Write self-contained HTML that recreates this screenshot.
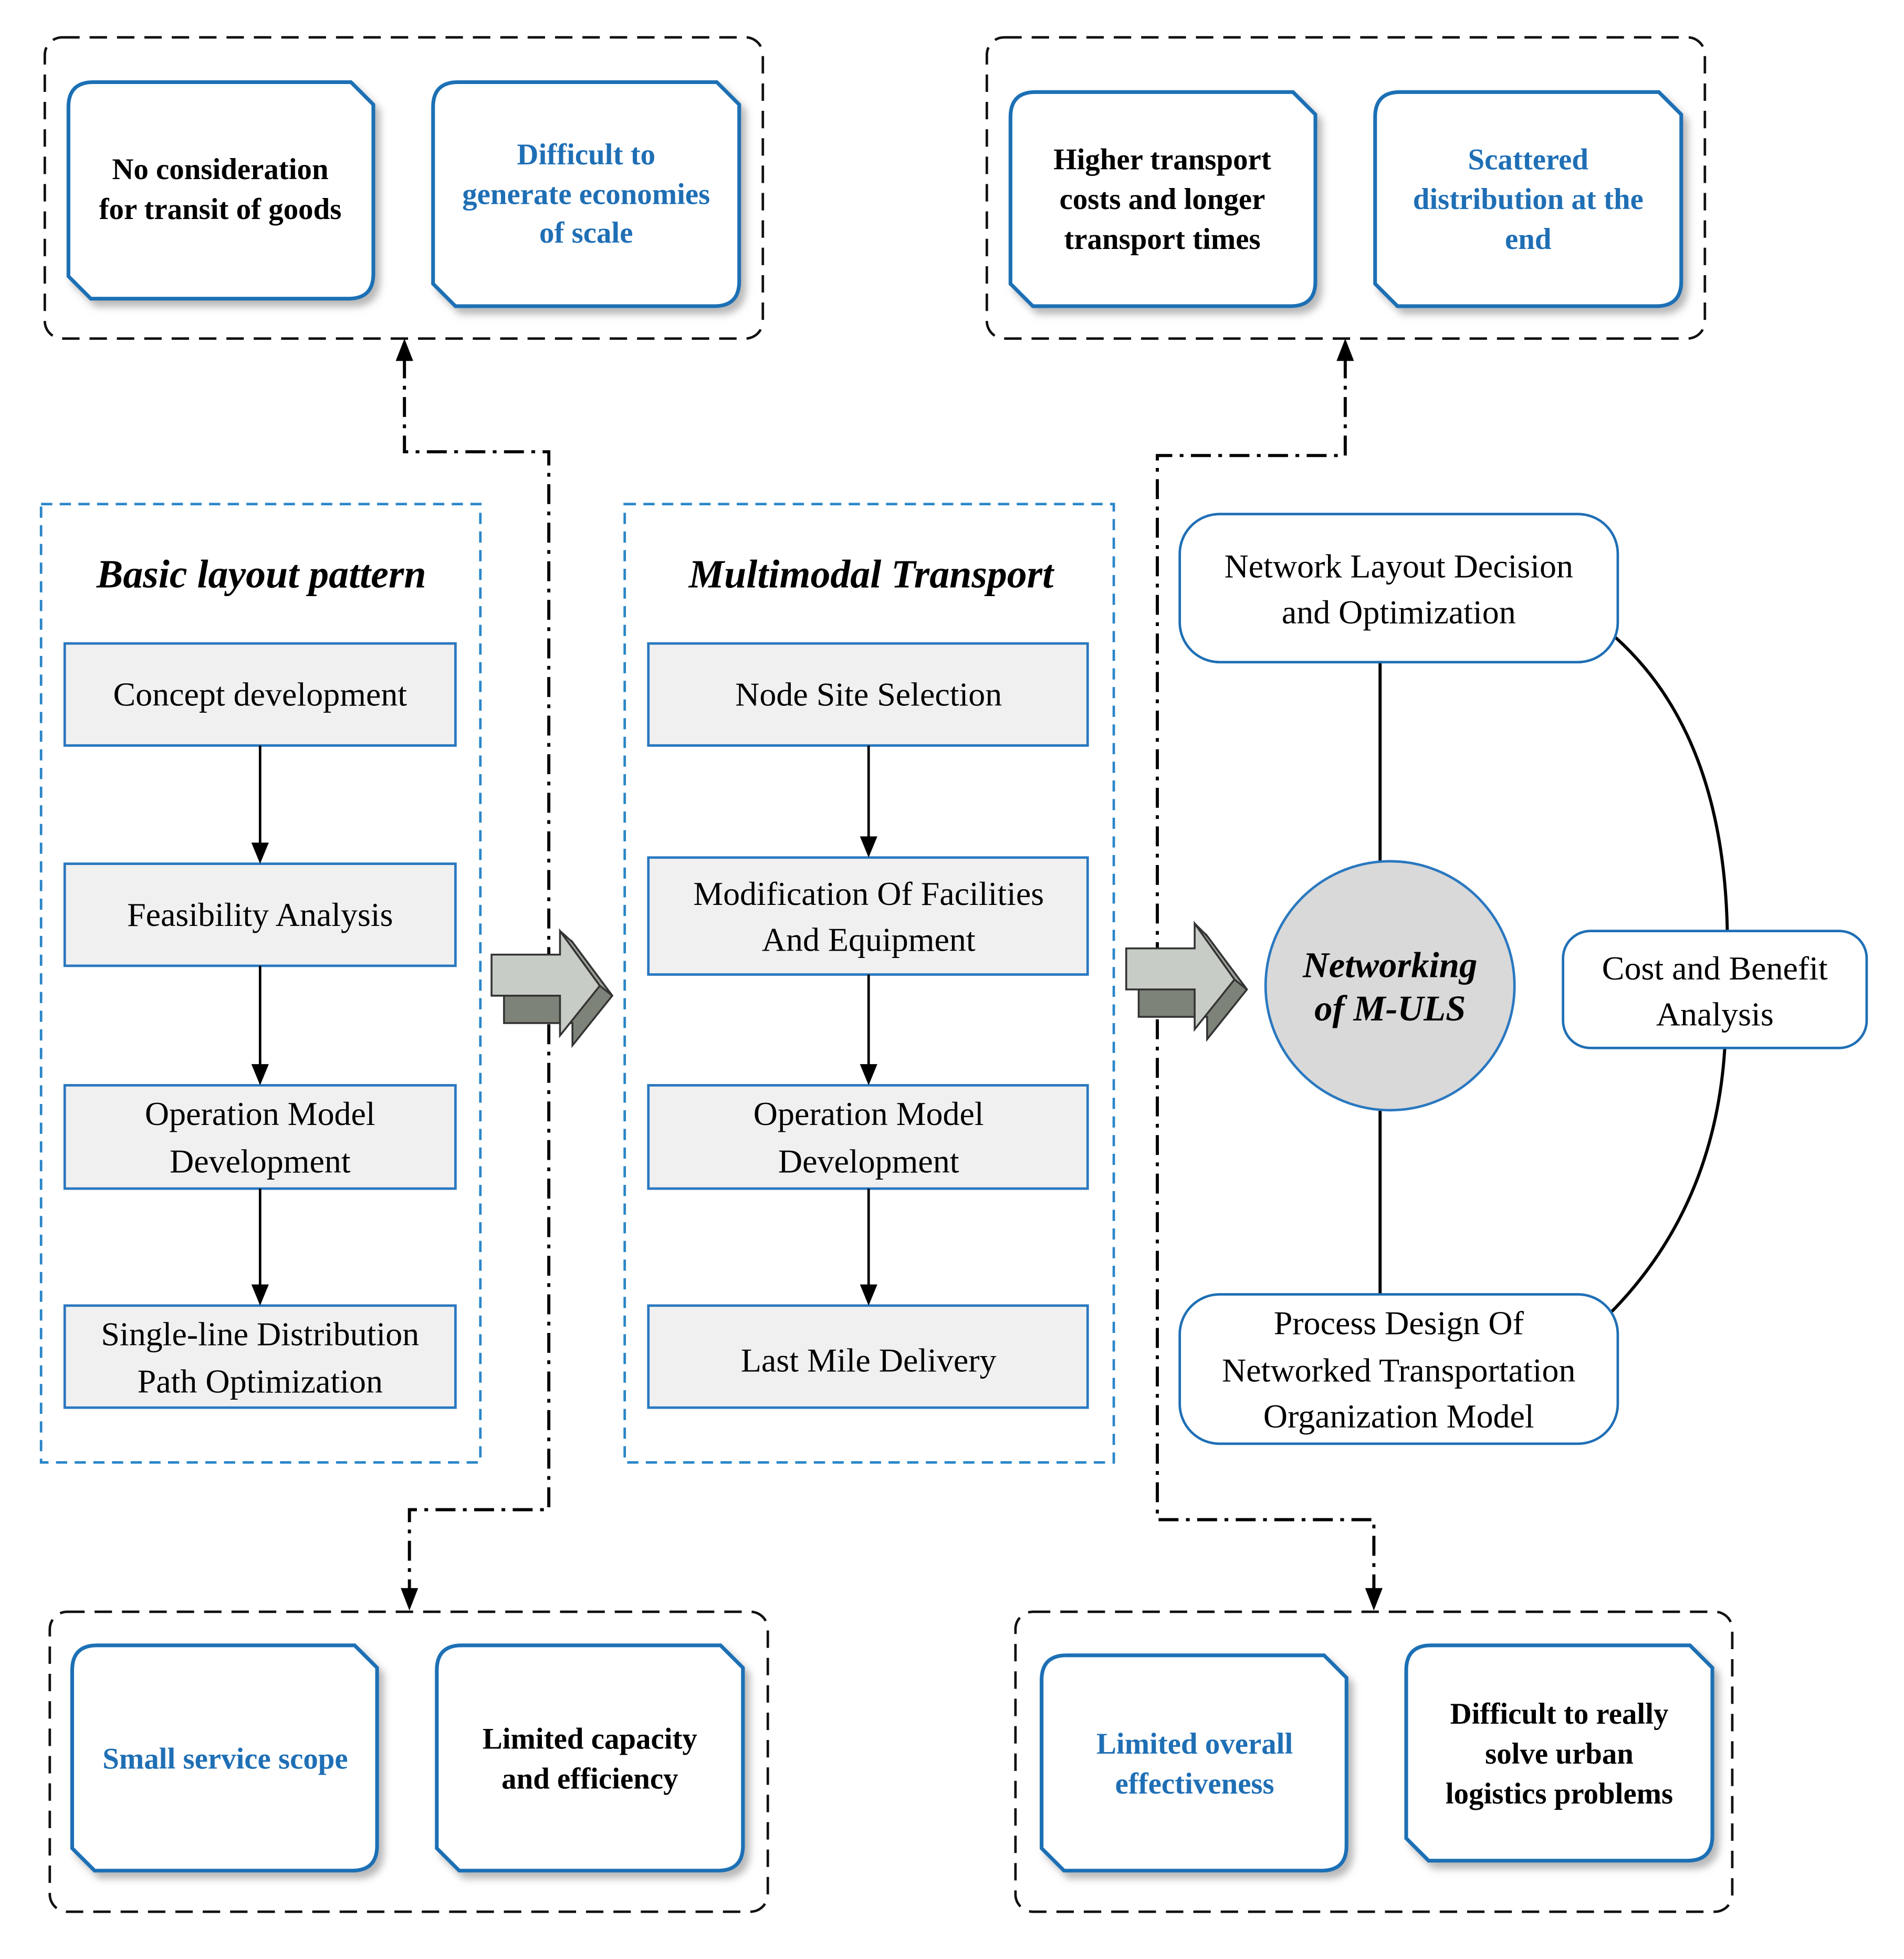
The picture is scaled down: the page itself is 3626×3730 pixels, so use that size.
<!DOCTYPE html>
<html><head><meta charset="utf-8"><style>html,body{margin:0;padding:0;background:#fff}svg{display:block}</style></head><body>
<svg width="3626" height="3730" viewBox="0 0 1530 1574" preserveAspectRatio="none" xmlns="http://www.w3.org/2000/svg" font-family="Liberation Serif, serif">
<defs>
<filter id="sh" x="-10%" y="-10%" width="130%" height="130%"><feDropShadow dx="4" dy="5" stdDeviation="3" flood-color="#888" flood-opacity="0.6"/></filter>
</defs>
<g fill="none" stroke="#111" stroke-width="2" stroke-dasharray="14,8">
<rect x="36" y="30" width="577" height="242" rx="14"/>
<rect x="793" y="30" width="577" height="242" rx="14"/>
<rect x="40" y="1295" width="577" height="241" rx="14"/>
<rect x="816" y="1295" width="576" height="241" rx="14"/>
</g>
<g fill="#fff" stroke="#1f6fb5" stroke-width="3" filter="url(#sh)">
<path d="M75,66 L282,66 L300,84 L300,220 Q300,240 280,240 L73,240 L55,222 L55,86 Q55,66 75,66 Z"/>
<path d="M368,66 L576,66 L594,84 L594,226 Q594,246 574,246 L366,246 L348,228 L348,86 Q348,66 368,66 Z"/>
<path d="M832,74 L1039,74 L1057,92 L1057,226 Q1057,246 1037,246 L830,246 L812,228 L812,94 Q812,74 832,74 Z"/>
<path d="M1125,74 L1333,74 L1351,92 L1351,226 Q1351,246 1331,246 L1123,246 L1105,228 L1105,94 Q1105,74 1125,74 Z"/>
<path d="M78,1322 L285,1322 L303,1340 L303,1483 Q303,1503 283,1503 L76,1503 L58,1485 L58,1342 Q58,1322 78,1322 Z"/>
<path d="M371,1322 L579,1322 L597,1340 L597,1483 Q597,1503 577,1503 L369,1503 L351,1485 L351,1342 Q351,1322 371,1322 Z"/>
<path d="M857,1330 L1064,1330 L1082,1348 L1082,1483 Q1082,1503 1062,1503 L855,1503 L837,1485 L837,1350 Q837,1330 857,1330 Z"/>
<path d="M1150,1322 L1358,1322 L1376,1340 L1376,1475 Q1376,1495 1356,1495 L1148,1495 L1130,1477 L1130,1342 Q1130,1322 1150,1322 Z"/>
</g>
<g font-weight="bold" font-size="24" text-anchor="middle">
<text x="177" y="144">No consideration</text><text x="177" y="176">for transit of goods</text>
<g fill="#1f6fb5"><text x="471" y="132">Difficult to</text><text x="471" y="164">generate economies</text><text x="471" y="195">of scale</text></g>
<text x="934" y="136">Higher transport</text><text x="934" y="168">costs and longer</text><text x="934" y="200">transport times</text>
<g fill="#1f6fb5"><text x="1228" y="136">Scattered</text><text x="1228" y="168">distribution at the</text><text x="1228" y="200">end</text></g>
<text x="181" y="1421" fill="#1f6fb5">Small service scope</text>
<text x="474" y="1405">Limited capacity</text><text x="474" y="1437">and efficiency</text>
<g fill="#1f6fb5"><text x="960" y="1409">Limited overall</text><text x="960" y="1441">effectiveness</text></g>
<text x="1253" y="1385">Difficult to really</text><text x="1253" y="1417">solve urban</text><text x="1253" y="1449">logistics problems</text>
</g>
<g fill="none" stroke="#2a86c8" stroke-width="2" stroke-dasharray="9,6">
<rect x="33" y="405" width="353" height="770"/>
<rect x="502" y="405" width="393" height="770"/>
</g>
<g font-weight="bold" font-style="italic" font-size="32" text-anchor="middle">
<text x="210" y="472">Basic layout pattern</text>
<text x="700" y="472">Multimodal Transport</text>
</g>
<g fill="#f0f0f0" stroke="#2a78c0" stroke-width="2">
<rect x="52" y="517" width="314" height="82"/><rect x="52" y="694" width="314" height="82"/>
<rect x="52" y="872" width="314" height="83"/><rect x="52" y="1049" width="314" height="82"/>
<rect x="521" y="517" width="353" height="82"/><rect x="521" y="689" width="353" height="94"/>
<rect x="521" y="872" width="353" height="83"/><rect x="521" y="1049" width="353" height="82"/>
</g>
<g font-size="27" text-anchor="middle">
<text x="209" y="567">Concept development</text>
<text x="209" y="744">Feasibility Analysis</text>
<text x="209" y="904">Operation Model</text><text x="209" y="942">Development</text>
<text x="209" y="1081">Single-line Distribution</text><text x="209" y="1119">Path Optimization</text>
<text x="698" y="567">Node Site Selection</text>
<text x="698" y="727">Modification Of Facilities</text><text x="698" y="764">And Equipment</text>
<text x="698" y="904">Operation Model</text><text x="698" y="942">Development</text>
<text x="698" y="1102">Last Mile Delivery</text>
</g>
<g stroke="#000" stroke-width="2" fill="none">
<line x1="209" y1="599" x2="209" y2="680"/>
<line x1="209" y1="776" x2="209" y2="858"/>
<line x1="209" y1="955" x2="209" y2="1035"/>
<line x1="698" y1="599" x2="698" y2="675"/>
<line x1="698" y1="783" x2="698" y2="858"/>
<line x1="698" y1="955" x2="698" y2="1035"/>
</g>
<g fill="#000">
<path d="M202,677 L216,677 L209,694 Z"/><path d="M202,855 L216,855 L209,872 Z"/><path d="M202,1032 L216,1032 L209,1049 Z"/>
<path d="M691,672 L705,672 L698,689 Z"/><path d="M691,855 L705,855 L698,872 Z"/><path d="M691,1032 L705,1032 L698,1049 Z"/>
</g>
<g stroke="#000" stroke-width="2.5" fill="none" stroke-dasharray="16,6,3,6">
<polyline points="325,288 325,363 441,363 441,1213 329,1213 329,1280"/>
<polyline points="1081,288 1081,366 930,366 930,1221 1104,1221 1104,1280"/>
</g>
<g fill="#000">
<path d="M318,290 L332,290 L325,272 Z"/><path d="M1074,290 L1088,290 L1081,272 Z"/>
<path d="M322,1276 L336,1276 L329,1294 Z"/><path d="M1097,1276 L1111,1276 L1104,1294 Z"/>
</g>
<g stroke="#333" stroke-width="1.5">
<path d="M405,775 L460,775 L460,757 L492,800 L460,840 L460,822 L405,822 Z" fill="#7d8378"/>
<path d="M395,767 L450,767 L450,748 L482,792 L450,832 L450,800 L395,800 Z" fill="#c8ccc6"/>
<path d="M450,748 L460,757 L492,800 L482,792 Z" fill="#9aa096"/>
<path d="M915,770 L970,770 L970,752 L1002,795 L970,835 L970,817 L915,817 Z" fill="#7d8378"/>
<path d="M905,762 L960,762 L960,742 L992,787 L960,827 L960,795 L905,795 Z" fill="#c8ccc6"/>
<path d="M960,742 L970,752 L1002,795 L992,787 Z" fill="#9aa096"/>
</g>
<g stroke="#000" stroke-width="2.5" fill="none">
<line x1="1109" y1="532" x2="1109" y2="692"/>
<line x1="1109" y1="892" x2="1109" y2="1040"/>
<path d="M1298,512 Q1385,590 1388,748"/>
<path d="M1386,842 Q1378,970 1294,1055"/>
</g>
<g fill="#fff" stroke="#1f6fb5" stroke-width="2">
<rect x="948" y="413" width="352" height="119" rx="32"/>
<rect x="948" y="1040" width="352" height="120" rx="32"/>
<rect x="1256" y="748" width="244" height="94" rx="22"/>
</g>
<circle cx="1117" cy="792" r="100" fill="#d9d9d9" stroke="#2a78c0" stroke-width="2"/>
<g font-size="27" text-anchor="middle">
<text x="1124" y="464">Network Layout Decision</text><text x="1124" y="501">and Optimization</text>
<text x="1124" y="1072">Process Design Of</text><text x="1124" y="1110">Networked Transportation</text><text x="1124" y="1147">Organization Model</text>
<text x="1378" y="787">Cost and Benefit</text><text x="1378" y="824">Analysis</text>
</g>
<g font-size="29" font-weight="bold" font-style="italic" text-anchor="middle">
<text x="1117" y="785">Networking</text><text x="1117" y="820">of M-ULS</text>
</g>
</svg>
</body></html>
